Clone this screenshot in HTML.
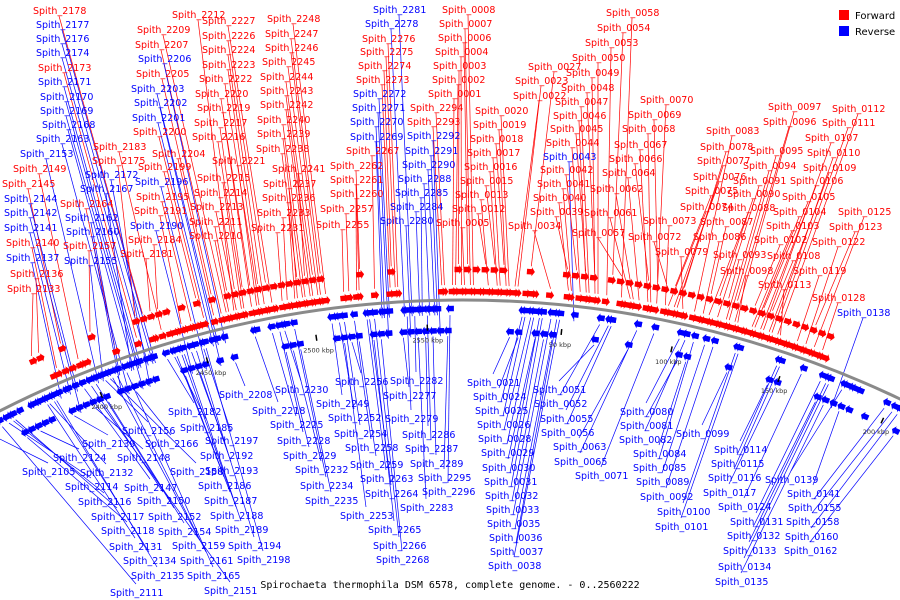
<!DOCTYPE html>
<html><head><meta charset="utf-8">
<style>
html,body{margin:0;padding:0;background:#fff;}
svg{display:block;font-family:"DejaVu Sans","Liberation Sans",sans-serif;}
.lbl{font-size:9.5px;}
</style></head>
<body>
<svg id="chart" width="900" height="600" viewBox="0 0 900 600" xmlns="http://www.w3.org/2000/svg">
<g id="lines"></g>
<g id="genes"></g>
<path id="backbone" fill="none" stroke="#8a8a8a" stroke-width="3"/>
<g id="ticks"></g>
<g id="labels"></g>
<g>
<rect x="839" y="10" width="10" height="10" fill="#ff0000"/>
<text x="855" y="19" font-size="10">Forward</text>
<rect x="839" y="26" width="10" height="10" fill="#0000ff"/>
<text x="855" y="35" font-size="10">Reverse</text>
</g>
<text x="450" y="588" text-anchor="middle" font-size="10" font-family="'DejaVu Sans Mono','Liberation Mono',monospace">Spirochaeta thermophila DSM 6578, complete genome. - 0..2560222</text>
</svg>
<script>
// gene labels: number, strand (f/r), label x, label y (layout)
const labelData = [
"2178,f,33,10","2177,r,36,24","2176,r,36,38","2174,r,36,52","2173,f,38,67","2171,r,38,81","2170,r,40,96","2169,r,40,110","2168,r,42,124","2163,r,36,138","2153,r,20,153","2149,f,13,168","2145,f,2,183","2144,r,4,198","2142,r,4,212","2141,r,4,227","2140,f,6,242","2137,r,6,257","2136,f,10,273","2133,f,7,288",
"2183,f,93,146","2175,f,92,160","2172,r,85,174","2167,r,80,188","2164,f,60,203","2162,r,65,217","2160,r,66,231","2157,f,63,245","2155,r,64,260",
"2212,f,172,14","2209,f,137,29","2207,f,135,44","2206,r,138,58","2205,f,136,73","2203,r,131,88","2202,r,134,102","2201,r,132,117","2200,f,133,131","2204,f,152,153","2199,f,138,166","2196,r,135,181","2195,f,136,196","2191,f,134,210","2190,r,130,225","2184,f,128,239","2181,f,120,253",
"2227,f,202,20","2226,f,202,35","2224,f,202,49","2223,f,202,64","2222,f,199,78","2220,f,195,93","2219,f,197,107","2217,f,194,122","2216,f,192,136","2221,f,212,160","2215,f,197,177","2214,f,194,192","2213,f,190,206","2211,f,189,221","2210,f,189,235",
"2248,f,267,18","2247,f,265,33","2246,f,265,47","2245,f,262,61","2244,f,260,76","2243,f,260,90","2242,f,260,104","2240,f,257,119","2239,f,257,133","2238,f,256,148","2241,f,272,168","2237,f,263,183","2236,f,262,197","2233,f,257,212","2231,f,251,227",
"2281,r,373,9","2278,r,365,23","2276,f,362,38","2275,f,360,51","2274,f,358,65","2273,f,356,79","2272,r,353,93","2271,r,352,107","2270,r,350,121","2269,r,350,136","2267,f,346,150","2262,f,330,165","2261,f,330,179","2260,f,330,193","2257,f,320,208","2255,f,316,224",
"2294,f,410,107","2293,f,407,121","2292,r,407,135","2291,r,405,150","2290,r,402,164","2288,r,398,178","2285,r,395,192","2284,r,390,206","2280,r,380,220",
"0008,f,442,9","0007,f,439,23","0006,f,438,37","0004,f,435,51","0003,f,433,65","0002,f,432,79","0001,f,428,93",
"0020,f,475,110","0019,f,473,124","0018,f,470,138","0017,f,467,152","0016,f,464,166","0015,f,460,180","0013,f,455,194","0012,f,452,208","0005,f,436,222",
"0027,f,528,66","0023,f,515,80","0022,f,513,95","0034,f,508,225",
"0058,f,606,12","0054,f,597,27","0053,f,585,42","0050,f,572,57","0049,f,566,72","0048,f,561,87","0047,f,555,101","0046,f,553,115","0045,f,550,128","0044,f,546,142","0043,r,543,156","0042,f,540,169","0041,f,537,183","0040,f,533,197","0039,f,530,211","0057,f,572,232","0061,f,584,212",
"0070,f,640,99","0069,f,628,114","0068,f,622,128","0067,f,614,144","0066,f,609,158","0064,f,602,172","0062,f,590,188","0073,f,643,220","0072,f,628,236","0079,f,655,251",
"0083,f,706,130","0078,f,700,146","0077,f,697,160","0076,f,693,176","0075,f,685,190","0074,f,680,206","0087,f,700,221","0086,f,693,236","0093,f,713,254",
"0097,f,768,106","0096,f,763,121","0095,f,750,150","0094,f,743,165","0091,f,733,180","0090,f,727,193","0088,f,722,207","0098,f,720,270",
"0112,f,832,108","0111,f,822,122","0107,f,805,137","0110,f,807,152","0109,f,803,167","0106,f,790,180","0105,f,782,196","0104,f,773,211","0103,f,766,225","0102,f,754,239","0108,f,767,255","0119,f,793,270","0113,f,758,284","0125,f,838,211","0123,f,829,226","0122,f,812,241","0128,f,812,297","0138,r,837,312",
"0021,r,467,382","0024,r,473,396","0025,r,475,410","0026,r,477,424","0028,r,478,438","0029,r,481,452","0030,r,482,467","0031,r,484,481","0032,r,485,495","0033,r,486,509","0035,r,487,523","0036,r,489,537","0037,r,490,551","0038,r,488,565",
"0051,r,533,389","0052,r,534,403","0055,r,540,418","0056,r,541,432","0063,r,553,446","0065,r,554,461","0071,r,575,475",
"0080,r,620,411","0081,r,620,425","0082,r,619,439","0084,r,633,453","0085,r,633,467","0089,r,636,481","0092,r,640,496","0100,r,657,511","0101,r,655,526","0099,r,676,433",
"0114,r,714,449","0115,r,711,463","0116,r,708,477","0117,r,703,492","0124,r,718,506","0131,r,730,521","0132,r,727,535","0133,r,723,550","0134,r,718,566","0135,r,715,581",
"0139,r,765,479","0141,r,787,493","0155,r,788,507","0158,r,786,521","0160,r,785,536","0162,r,784,550",
"2208,r,219,394","2182,r,168,411","2185,r,180,427","2156,r,122,430","2166,r,145,443","2197,r,205,440","2139,r,82,443","2148,r,117,457","2124,r,53,457","2192,r,200,455","2105,r,22,471","2132,r,80,472","2158,r,170,471","2193,r,205,470","2114,r,65,486","2147,r,124,487","2186,r,198,485","2116,r,78,501","2150,r,137,500","2187,r,204,500","2117,r,91,516","2152,r,148,516","2188,r,210,515","2118,r,101,530","2154,r,158,531","2189,r,215,529","2131,r,109,546","2159,r,172,545","2194,r,228,545","2134,r,123,560","2161,r,180,560","2198,r,237,559","2135,r,131,575","2165,r,187,575","2111,r,110,592","2151,r,204,590",
"2230,r,275,389","2218,r,252,410","2225,r,270,424","2228,r,277,440","2229,r,283,455","2232,r,295,469","2234,r,300,485","2235,r,305,500","2253,r,340,515","2265,r,368,529","2266,r,373,545","2268,r,376,559","2256,r,335,381","2249,r,316,403","2252,r,328,417","2254,r,334,433","2258,r,345,447","2259,r,350,464","2263,r,360,478","2264,r,365,493","2283,r,400,507","2282,r,390,380","2277,r,383,395","2279,r,385,418","2286,r,402,434","2287,r,405,448","2289,r,410,463","2295,r,418,477","2296,r,422,491"
];
// extra unlabeled gene numbers (forward / reverse)
const extraForward = [9,10,11,14,26,28,29,59,60,63,80,81,84,85,89,92,99,100,101,114,115,116,117,118,120,121,124,126,127,129,130,2138,2143,2146,2150,2152,2179,2180,2186,2187,2188,2189,2192,2193,2194,2197,2198,2225,2228,2229,2232,2234,2235];
const extraReverse = [30,31,32,33,35,36,52,55,56,65,82,140,142,143,144,145,150,2105,2110,2120,2121,2125,2126,2127,2128,2129,2130,2140,2145,2150,2166,2171,2175,2177,2219,2231,2250,2251,2271,2286];
const tickKbp = [2400,2450,2500,2550,50,100,150,200];
const tickText = ["2400 kbp","2450 kbp","2500 kbp","2550 kbp","50 kbp","100 kbp","150 kbp","200 kbp"];
const GENOME_KBP = 2560.222, GENE_COUNT = 2296;

const NS="http://www.w3.org/2000/svg";
const cx=462, cy=1318, R=1018;
function wrap(k){ return k>GENOME_KBP/2 ? k-GENOME_KBP : k; }
function theta(k){ return -0.012 + 0.00225*wrap(k); }
function pt(k,r){ const t=theta(k); return [cx+r*Math.sin(t), cy-r*Math.cos(t)]; }
function geneKbp(n){ return n < GENE_COUNT/2 ? n*1.28 : n*GENOME_KBP/GENE_COUNT; }

(function(){
  const a=pt(-250,R), b=pt(250,R);
  document.getElementById('backbone').setAttribute('d',`M${a[0]},${a[1]} A${R},${R} 0 0 1 ${b[0]},${b[1]}`);
})();

const gG=document.getElementById('genes'), gL=document.getElementById('lines'), gT=document.getElementById('labels'), gK=document.getElementById('ticks');

function arrow(k,strand,lane){
  const dir = strand==='f'?1:-1;
  const base = strand==='f' ? R+4+lane*22 : R-4-lane*22;
  const h = strand==='f'?9:-9;
  const t=theta(k), tx=Math.cos(t), ty=Math.sin(t), nx=Math.sin(t), ny=-Math.cos(t);
  const c=pt(k,base+h/2);
  const L=4, hh=4.5;
  const p=(a,b)=>[c[0]+tx*a*dir+nx*b, c[1]+ty*a*dir+ny*b];
  const pts=[p(-L,-hh*0.6),p(L*0.2,-hh*0.6),p(L*0.2,-hh),p(L,0),p(L*0.2,hh),p(L*0.2,hh*0.6),p(-L,hh*0.6)];
  const poly=document.createElementNS(NS,'polygon');
  poly.setAttribute('points',pts.map(q=>q[0].toFixed(1)+','+q[1].toFixed(1)).join(' '));
  poly.setAttribute('fill',strand==='f'?'#ff0000':'#0000ff');
  
  
  gG.appendChild(poly);
}

const genes=[];
labelData.forEach(s=>{const a=s.split(','); genes.push([parseInt(a[0],10),a[1]]);});
extraForward.forEach(n=>genes.push([n,'f']));
extraReverse.forEach(n=>genes.push([n,'r']));
genes.forEach(g=>arrow(geneKbp(g[0]),g[1],(g[0]%3===0)?1:0));

labelData.forEach(s=>{
  const a=s.split(','); const n=parseInt(a[0],10), st=a[1], x=+a[2], y=+a[3];
  const col=st==='f'?'#ff0000':'#0000ff';
  const k=geneKbp(n);
  const top = y<330;
  const end = pt(k, st==='f' ? R+(n%3===0?36:15) : R-(n%3===0?36:15));
  const line=document.createElementNS(NS,'line');
  line.setAttribute('x1',x+26); line.setAttribute('y1',top?y+6:y-8);
  line.setAttribute('x2',end[0].toFixed(1)); line.setAttribute('y2',end[1].toFixed(1));
  line.setAttribute('stroke',col); line.setAttribute('stroke-width','0.7');
  
  
  gL.appendChild(line);
  const t=document.createElementNS(NS,'text');
  t.setAttribute('x',x); t.setAttribute('y',y+4);
  t.setAttribute('fill',col); t.setAttribute('class','lbl');
  t.textContent='Spith_'+a[0];
  
  
  gT.appendChild(t);
});

tickKbp.forEach((k,i)=>{
  const a=pt(k,R-24), b=pt(k,R-30), c=pt(k,R-42);
  const ln=document.createElementNS(NS,'line');
  ln.setAttribute('x1',a[0]); ln.setAttribute('y1',a[1]); ln.setAttribute('x2',b[0]); ln.setAttribute('y2',b[1]);
  ln.setAttribute('stroke','#000'); ln.setAttribute('stroke-width','1.5');
  
  
  gK.appendChild(ln);
  const t=document.createElementNS(NS,'text');
  t.setAttribute('x',c[0]); t.setAttribute('y',c[1]);
  t.setAttribute('font-size','6.5'); t.setAttribute('fill','#333'); t.setAttribute('text-anchor','middle');
  t.textContent=tickText[i];
  
  
  gK.appendChild(t);
});
</script>
</body></html>
